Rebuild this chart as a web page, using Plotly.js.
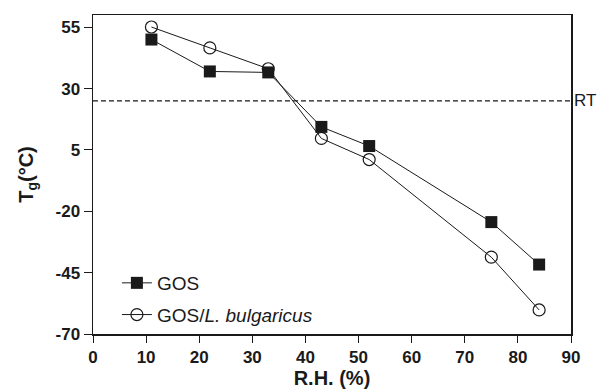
<!DOCTYPE html>
<html><head><meta charset="utf-8">
<script src="https://cdn.plot.ly/plotly-3.0.1.min.js"></script>
<style>
html,body{margin:0;padding:0;background:#fff}
.xtick text, .ytick text {font-weight: bold !important;}
</style>
</head><body><div id="c" style="width:597px;height:390px"></div>
<script>
const rh = [11, 22, 33, 43, 52, 75, 84];
const tgGOS = [50.0, 37.0, 36.6, 14.4, 6.6, -24.4, -41.7];
const tgGOSLb = [55.1, 46.6, 38.1, 9.7, 1.1, -38.7, -60.2];
const rtValue = 25;
const yTicks = [55, 30, 5, -20, -45, -70];
const yTickText = ['55', '30', '5', '-20', '-45', '-70'];
const xTicks = [0, 10, 20, 30, 40, 50, 60, 70, 80, 90];
const xTickText = ['0', '10', '20', '30', '40', '50', '60', '70', '80', '90'];

const font = 'Liberation Sans, Arial, sans-serif';
const ink = '#1a1a1a';
const traces = [
  {x: rh, y: tgGOS, name: 'GOS', mode: 'lines+markers', legendgroup: 'a',
   line: {color: ink, width: 1},
   marker: {symbol: 'square', size: 12, color: ink}},
  {x: rh, y: tgGOSLb, name: 'GOS/<i>L. bulgaricus</i>', mode: 'lines+markers', legendgroup: 'b',
   line: {color: ink, width: 1},
   marker: {symbol: 'circle-open', size: 12, color: ink, line: {width: 1.2, color: ink}}}
];
const layout = {
  width: 597, height: 390,
  margin: {l: 93, r: 26, t: 15, b: 56},
  paper_bgcolor: '#fff', plot_bgcolor: '#fff',
  font: {family: font, color: ink},
  showlegend: true,
  legend: {x: 0.05, y: 0.0, xanchor: 'left', yanchor: 'bottom', bgcolor: 'rgba(0,0,0,0)',
    font: {size: 19, family: font, color: ink}, tracegroupgap: 4},
  xaxis: {range: [0, 90], tickvals: xTicks, ticktext: xTickText, ticks: 'outside', ticklen: 7, tickwidth: 1, tickcolor: ink,
    showline: true, linecolor: ink, linewidth: 1.5, mirror: true, showgrid: false, zeroline: false,
    tickfont: {size: 17, family: font, color: ink, weight: 'bold'},
    title: {text: '<b>R.H. (%)</b>', font: {size: 20, family: font, color: ink}, standoff: 2}},
  yaxis: {range: [-70, 60], tickvals: yTicks, ticktext: yTickText, ticks: 'outside', ticklen: 8, tickwidth: 1, tickcolor: ink,
    showline: true, linecolor: ink, linewidth: 1.5, mirror: true, showgrid: false, zeroline: false,
    tickfont: {size: 17, family: font, color: ink, weight: 'bold'},
    title: {text: '<b>T<sub>g</sub>(°C)</b>', font: {size: 20, family: font, color: ink}, standoff: 16}},
  shapes: [{type: 'line', xref: 'x', yref: 'y', x0: 0, x1: 90, y0: rtValue, y1: rtValue,
    line: {color: ink, width: 1.2, dash: '5px,3px'}}],
  annotations: [{xref: 'paper', yref: 'y', x: 1, y: rtValue, text: 'RT', showarrow: false,
    xanchor: 'left', xshift: 1, font: {size: 17, family: font, color: ink}}]
};
Plotly.newPlot('c', traces, layout, {displayModeBar: false, staticPlot: true});
</script></body></html>
